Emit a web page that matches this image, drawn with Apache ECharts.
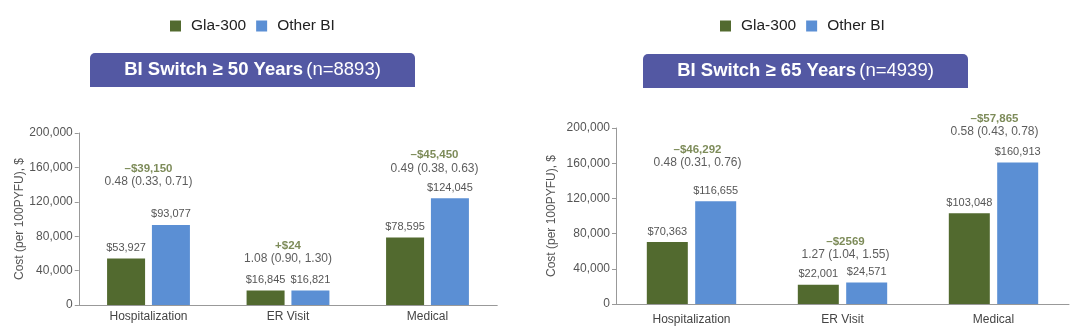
<!DOCTYPE html>
<html>
<head>
<meta charset="utf-8">
<title>BI Switch Costs</title>
<script src="https://cdn.jsdelivr.net/npm/echarts@6/dist/echarts.min.js"></script>
<style>
  html, body { margin: 0; padding: 0; background: #fff; }
  #main { width: 1080px; height: 335px; }
</style>
</head>
<body>
<div id="main"></div>
<script type="text/javascript">
    // categories and values
    var categories = ['Hospitalization', 'ER Visit', 'Medical'];
    var yTicks = [0, 40000, 80000, 120000, 160000, 200000];

    // BI switch >= 50 years (n=8893)
    var gla50 = [53927, 16845, 78595];
    var other50 = [93077, 16821, 124045];
    var diff50 = ['–$39,150', '+$24', '–$45,450'];
    var ratio50 = ['0.48 (0.33, 0.71)', '1.08 (0.90, 1.30)', '0.49 (0.38, 0.63)'];
    var noteAnchor50 = [151000, 61000, 166500];

    // BI switch >= 65 years (n=4939)
    var gla65 = [70363, 22001, 103048];
    var other65 = [116655, 24571, 160913];
    var diff65 = ['–$46,292', '–$2569', '–$57,865'];
    var ratio65 = ['0.48 (0.31, 0.76)', '1.27 (1.04, 1.55)', '0.58 (0.43, 0.78)'];
    var noteAnchor65 = [167500, 63500, 203000];

    var GREEN = '#526a2f';
    var BLUE = '#5b8fd4';
    var BANNER = '#5358a3';
    var FONT = '"Liberation Sans", Arial, sans-serif';

    var myChart = echarts.init(document.getElementById('main'));

    function money(v) {
        return '$' + v.toLocaleString('en-US');
    }

    function yAxisFor(gridIndex, nameGap) {
        return {
            type: 'value',
            gridIndex: gridIndex,
            min: yTicks[0],
            max: yTicks[yTicks.length - 1],
            interval: yTicks[1] - yTicks[0],
            name: 'Cost (per 100PYFU), $',
            nameLocation: 'middle',
            nameGap: nameGap,
            nameTextStyle: {color: '#555', fontSize: 12, fontFamily: FONT},
            axisLine: {show: true, lineStyle: {color: '#999'}},
            axisTick: {show: true, length: 4, lineStyle: {color: '#999'}},
            splitLine: {show: false},
            axisLabel: {
                color: '#555', fontSize: 12, fontFamily: FONT, margin: 6,
                formatter: function (v) { return v.toLocaleString('en-US'); }
            }
        };
    }

    function xAxisFor(gridIndex, margin) {
        return {
            type: 'category',
            gridIndex: gridIndex,
            data: categories,
            axisLine: {show: true, lineStyle: {color: '#999'}},
            axisTick: {show: false},
            axisLabel: {color: '#444', fontSize: 12, fontFamily: FONT, margin: margin}
        };
    }

    function barSeries(name, idx, values, color, width) {
        return {
            type: 'bar',
            name: name,
            xAxisIndex: idx,
            yAxisIndex: idx,
            data: values,
            barWidth: width,
            barGap: '18%',
            itemStyle: {color: color},
            label: {
                show: true,
                position: 'top',
                distance: 5,
                color: '#555',
                fontSize: 11,
                fontFamily: FONT,
                formatter: function (p) { return money(p.value); }
            }
        };
    }

    function noteSeries(idx, anchors, diffs, ratios, offsets) {
        return {
            type: 'scatter',
            name: 'note' + idx,
            xAxisIndex: idx,
            yAxisIndex: idx,
            symbolSize: 1,
            clip: false,
            silent: true,
            itemStyle: {color: 'transparent'},
            data: anchors.map(function (a, i) {
                return {value: a, label: {offset: [offsets[i], 0]}};
            }),
            label: {
                show: true,
                position: 'inside',
                fontFamily: FONT,
                formatter: function (p) {
                    return '{d|' + diffs[p.dataIndex] + '}\n{r|' + ratios[p.dataIndex] + '}';
                },
                rich: {
                    d: {color: '#5c6e30', fontSize: 11.5, fontWeight: 'bold', lineHeight: 13, fontFamily: FONT},
                    r: {color: '#333', fontSize: 12, lineHeight: 13, fontFamily: FONT}
                }
            }
        };
    }

    function banner(x, y, bold, rest) {
        return {
            type: 'group',
            children: [{
                type: 'rect',
                shape: {x: x, y: y, width: 325, height: 34, r: [5, 5, 0, 0]},
                style: {fill: BANNER}
            }, {
                type: 'text',
                x: x + 162.5,
                y: y + 17,
                style: {
                    text: '{b|' + bold + '} {n|' + rest + '}',
                    align: 'center',
                    verticalAlign: 'middle',
                    rich: {
                        b: {fill: '#fff', fontSize: 18.5, fontWeight: 'bold', fontFamily: FONT},
                        n: {fill: '#fff', fontSize: 18.5, fontFamily: FONT}
                    }
                }
            }]
        };
    }

    function legendAt(left) {
        return {
            left: left,
            top: 13,
            icon: 'rect',
            itemWidth: 11,
            itemHeight: 11,
            itemGap: 10,
            selectedMode: false,
            data: ['Gla-300', 'Other BI'],
            textStyle: {color: '#222', fontSize: 15.5, fontFamily: FONT, padding: [0, 0, 0, 5]}
        };
    }

    var option = {
        animation: false,
        textStyle: {fontFamily: FONT},
        legend: [legendAt(165), legendAt(715)],
        grid: [
            {left: 78.75, width: 418.5, top: 133, bottom: 30},
            {left: 616, width: 453, top: 128, bottom: 31}
        ],
        xAxis: [xAxisFor(0, 6), xAxisFor(1, 10)],
        yAxis: [yAxisFor(0, 52), yAxisFor(1, 58)],
        graphic: [
            banner(90, 53, 'BI Switch ≥ 50 Years', '(n=8893)'),
            banner(643, 54, 'BI Switch ≥ 65 Years', '(n=4939)')
        ],
        series: [
            barSeries('Gla-300', 0, gla50, GREEN, 38),
            barSeries('Other BI', 0, other50, BLUE, 38),
            barSeries('Gla-300', 1, gla65, GREEN, 41),
            barSeries('Other BI', 1, other65, BLUE, 41),
            noteSeries(0, noteAnchor50, diff50, ratio50, [0, 0, 7]),
            noteSeries(1, noteAnchor65, diff65, ratio65, [6, 3, 1])
        ]
    };
    myChart.setOption(option, true);
</script>
</body>
</html>
